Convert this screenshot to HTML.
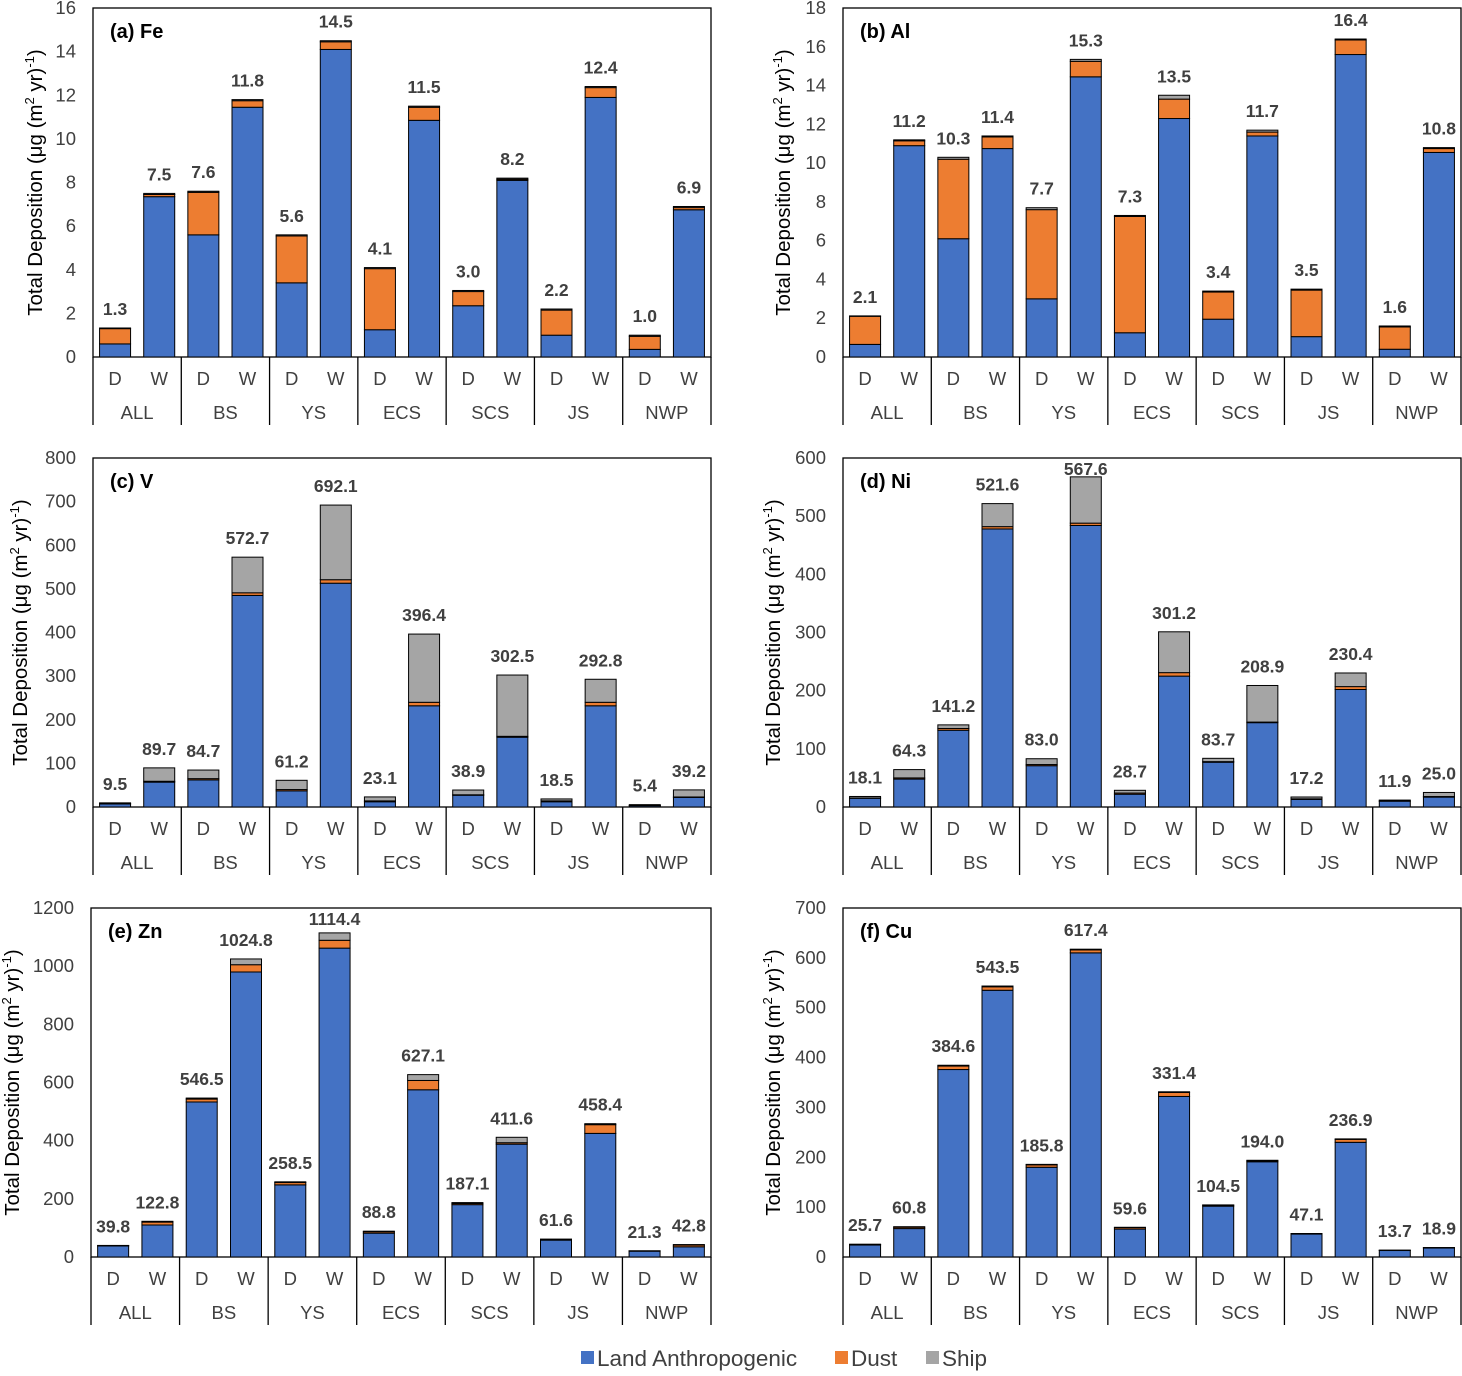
<!DOCTYPE html>
<html><head><meta charset="utf-8"><style>
body{margin:0;background:#fff}
svg text{font-family:"Liberation Sans",Arial,sans-serif}
</style></head><body>
<svg id="chart" width="1462" height="1371" xmlns="http://www.w3.org/2000/svg"></svg>
<script>
const regions = ["ALL","BS","YS","ECS","SCS","JS","NWP"];
const seasons = ["D","W"];
const seriesNames = ["Land Anthropogenic","Dust","Ship"];
const colors = ["#4472C4","#ED7D31","#A5A5A5"];

const feLand = [0.6,7.35,5.6,11.45,3.4,14.1,1.25,10.85,2.35,8.1,1.0,11.9,0.35,6.75];
const feDust = [0.7,0.1,1.95,0.3,2.15,0.35,2.8,0.6,0.65,0.05,1.15,0.45,0.6,0.1];
const feShip = [0.03,0.05,0.05,0.05,0.05,0.05,0.05,0.05,0.05,0.05,0.05,0.05,0.05,0.05];
const feTotal = ["1.3","7.5","7.6","11.8","5.6","14.5","4.1","11.5","3.0","8.2","2.2","12.4","1.0","6.9"];

const alLand = [0.65,10.9,6.1,10.75,3.0,14.45,1.25,12.3,1.95,11.4,1.05,15.6,0.4,10.55];
const alDust = [1.45,0.25,4.1,0.6,4.6,0.8,6.0,1.0,1.4,0.2,2.4,0.75,1.15,0.2];
const alShip = [0.02,0.05,0.1,0.05,0.1,0.1,0.05,0.2,0.05,0.1,0.05,0.05,0.05,0.05];
const alTotal = ["2.1","11.2","10.3","11.4","7.7","15.3","7.3","13.5","3.4","11.7","3.5","16.4","1.6","10.8"];

const vLand = [7,57,62,485,37,513,12,232,27,160,12,232,3,22];
const vDust = [0.5,2,3,6,3,8,2,8,1,2,2,8,0.4,1];
const vShip = [2,30.7,19.7,81.7,21.2,171.1,9.1,156.4,10.9,140.5,4.5,52.8,2,16.2];
const vTotal = ["9.5","89.7","84.7","572.7","61.2","692.1","23.1","396.4","38.9","302.5","18.5","292.8","5.4","39.2"];

const niLand = [15,48,132,478,71,484,22,225,77,145,13,202,10,17];
const niDust = [0.5,2,3,4,2,4,2,6,1,1,1,5,0.4,1];
const niShip = [2.6,14.3,6.2,39.6,10,79.6,4.7,70.2,5.7,62.9,3.2,23.4,1.5,7];
const niTotal = ["18.1","64.3","141.2","521.6","83.0","567.6","28.7","301.2","83.7","208.9","17.2","230.4","11.9","25.0"];

const znLand = [38,110,533,980,248,1062,82,575,180,388,58,425,20,35];
const znDust = [1,10,10,25,8,27,5,32,4,5,2,30,1,6];
const znShip = [0.8,2.8,3.5,19.8,2.5,25.4,1.8,20.1,3.1,18.6,1.6,3.4,0.3,1.8];
const znTotal = ["39.8","122.8","546.5","1024.8","258.5","1114.4","88.8","627.1","187.1","411.6","61.6","458.4","21.3","42.8"];

const cuLand = [24,57,376,535,180,610,56,322,102,191,46,230,13,18];
const cuDust = [1,2.8,7,7,4.8,6,3,8,2,2,1,6,0.6,0.8];
const cuShip = [0.7,1,1.6,1.5,1,1.4,0.6,1.4,0.5,1,0.1,0.9,0.1,0.1];
const cuTotal = ["25.7","60.8","384.6","543.5","185.8","617.4","59.6","331.4","104.5","194.0","47.1","236.9","13.7","18.9"];

const panels = [
 {id:"fe",title:"(a) Fe",x0:93,x1:711,top:8,bot:357,max:16,step:2,tx:42,s:[feLand,feDust,feShip],t:feTotal},
 {id:"al",title:"(b) Al",x0:843,x1:1461,top:8,bot:357,max:18,step:2,tx:790,s:[alLand,alDust,alShip],t:alTotal},
 {id:"v",title:"(c) V",x0:93,x1:711,top:458,bot:807,max:800,step:100,tx:27,s:[vLand,vDust,vShip],t:vTotal},
 {id:"ni",title:"(d) Ni",x0:843,x1:1461,top:458,bot:807,max:600,step:100,tx:780,s:[niLand,niDust,niShip],t:niTotal},
 {id:"zn",title:"(e) Zn",x0:91,x1:711,top:908,bot:1257,max:1200,step:200,tx:19,s:[znLand,znDust,znShip],t:znTotal},
 {id:"cu",title:"(f) Cu",x0:843,x1:1461,top:908,bot:1257,max:700,step:100,tx:780,s:[cuLand,cuDust,cuShip],t:cuTotal}
];
const NS="http://www.w3.org/2000/svg";
const svg=document.getElementById("chart");
function mk(tag,attrs,parent,txt){const e=document.createElementNS(NS,tag);for(const k in attrs)e.setAttribute(k,attrs[k]);if(txt!==undefined)e.textContent=txt;(parent||svg).appendChild(e);return e;}

panels.forEach(p=>{
  const g=mk("g",{});
  
  
  const y=v=>p.bot-(v/p.max)*(p.bot-p.top);
  const n=14, slot=(p.x1-p.x0)/n, bw=31;
  const fr=mk("rect",{x:p.x0,y:p.top,width:p.x1-p.x0,height:p.bot-p.top,fill:"none",stroke:"#000","stroke-width":1.3},g);
  
  
  for(let v=0;v<=p.max+1e-9;v+=p.step){
    const t=mk("text",{x:p.x0-17,y:y(v)+6,"text-anchor":"end","font-size":18.5,fill:"#404040"},g,String(v));
    
    
  }
  const yt=mk("text",{x:0,y:0,transform:`translate(${p.tx},${(p.top+p.bot)/2}) rotate(-90)`,"text-anchor":"middle","font-size":20.5,fill:"#000"},g);
  
  
  yt.innerHTML='Total Deposition (μg (m<tspan font-size="13" dy="-8">2</tspan><tspan dy="8"> yr)</tspan><tspan font-size="13" dy="-8">-1</tspan><tspan dy="8">)</tspan>';
  const ti=mk("text",{x:p.x0+17,y:p.top+30,"font-size":20,"font-weight":"bold",fill:"#000"},g,p.title);
  
  
  for(let r=0;r<=7;r++){
    const lx=p.x0+r*2*slot;
    const l=mk("line",{x1:lx,y1:p.bot,x2:lx,y2:p.bot+68,stroke:"#000","stroke-width":1.3},g);
    
    
  }
  for(let i=0;i<n;i++){
    const cx=p.x0+slot*(i+0.5);
    let base=0;
    for(let s=0;s<3;s++){
      const v=p.s[s][i];
      const r=mk("rect",{x:cx-bw/2,y:y(base+v),width:bw,height:Math.max(0,y(base)-y(base+v)),fill:colors[s],stroke:"#000","stroke-width":1},g);
      
      
      base+=v;
    }
    const ly=Math.max(y(base)-13,p.top+17);
    const vl=mk("text",{x:cx,y:ly,"text-anchor":"middle","font-size":17.5,"font-weight":"bold",fill:"#404040"},g,p.t[i]);
    
    
    const sl=mk("text",{x:cx,y:p.bot+28,"text-anchor":"middle","font-size":18.5,fill:"#404040"},g,seasons[i%2]);
    
    
  }
  regions.forEach((rg,r)=>{
    const rl=mk("text",{x:p.x0+slot*(2*r+1),y:p.bot+62,"text-anchor":"middle","font-size":18.5,fill:"#404040"},g,rg);
    
    
  });
});
const lg=mk("g",{});


const lx=[581,835,926];
seriesNames.forEach((nm,i)=>{
  const sq=mk("rect",{x:lx[i],y:1351,width:13,height:13,fill:colors[i]},lg);
  
  
  const t=mk("text",{x:lx[i]+16,y:1366,"font-size":22.5,fill:"#404040"},lg,nm);
  
  
});
</script>
</body></html>
